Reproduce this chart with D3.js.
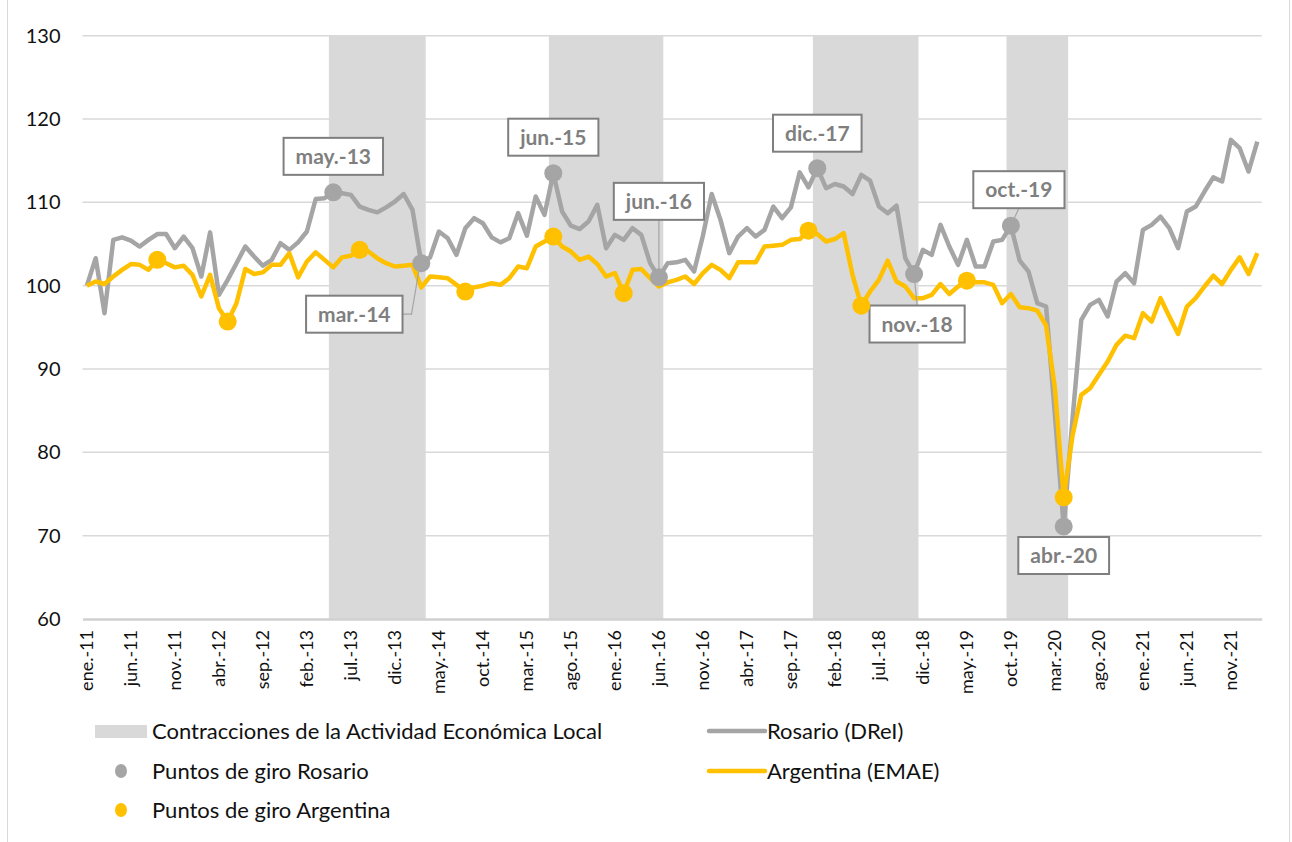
<!DOCTYPE html>
<html lang="es">
<head>
<meta charset="utf-8" />
<title>Rosario vs Argentina</title>
<script src="https://cdn.jsdelivr.net/npm/d3@7"></script>
<style>
  body { margin: 0; background: #fff; }
  svg text { font-family: Lato, "Open Sans", sans-serif; }
</style>
</head>
<body>
<div id="chart"></div>
<script>
  /* data */
  const monthNames = ["ene", "feb", "mar", "abr", "may", "jun", "jul", "ago", "sep", "oct", "nov", "dic"];
  // monthly series, ene.-11 .. feb.-22
  const categories = d3.range(134).map((i) => `${monthNames[i % 12]}.-${11 + Math.floor(i / 12)}`);

  const rosario = [
    100.0, 103.3, 96.7, 105.5, 105.8, 105.4, 104.7, 105.5, 106.2, 106.2, 104.5, 105.9,
    104.5, 101.1, 106.4, 98.9, 100.7, 102.7, 104.7, 103.5, 102.4, 103.1, 105.1, 104.3,
    105.2, 106.5, 110.4, 110.5, 111.2, 111.1, 110.9, 109.5, 109.1, 108.8, 109.4, 110.1,
    111.0, 109.1, 102.7, 103.4, 106.5, 105.7, 103.7, 106.9, 108.1, 107.5, 105.8, 105.2,
    105.7, 108.7, 106.0, 110.7, 108.5, 113.5, 108.9, 107.2, 106.8, 107.7, 109.7, 104.5,
    106.1, 105.5, 106.9, 106.1, 102.7, 101.0, 102.7, 102.8, 103.1, 101.7, 106.0, 111.0,
    107.9, 103.9, 105.9, 106.9, 105.9, 106.7, 109.5, 108.1, 109.4, 113.6, 111.8, 114.1,
    111.7, 112.2, 111.9, 111.0, 113.3, 112.6, 109.5, 108.7, 109.6, 103.3, 101.4, 104.3,
    103.7, 107.3, 104.7, 102.5, 105.5, 102.3, 102.3, 105.3, 105.5, 107.2, 103.0, 101.7,
    97.9, 97.5, 84.5, 71.1, 84.0, 95.9, 97.7, 98.3, 96.3, 100.5, 101.5, 100.3,
    106.7, 107.3, 108.3, 106.9, 104.5, 108.9, 109.5, 111.3, 113.0, 112.5, 117.5, 116.5,
    113.7, 117.3
  ];

  const argentina = [
    100.0, 100.5, 100.2, 101.1, 101.9, 102.6, 102.5, 101.9, 103.1, 102.7, 102.2, 102.4,
    101.3, 98.7, 101.3, 97.3, 95.7, 97.9, 102.0, 101.4, 101.6, 102.5, 102.5, 103.9,
    101.0, 102.9, 104.0, 103.1, 102.2, 103.4, 103.6, 104.3, 104.1, 103.3, 102.7, 102.3,
    102.4, 102.5, 99.8, 101.1, 101.0, 100.9, 100.1, 99.3, 99.8, 100.0, 100.3, 100.1,
    100.9, 102.3, 102.1, 104.7, 105.3, 105.9, 104.7, 104.1, 103.1, 103.5, 102.6, 101.1,
    101.5, 99.1, 101.9, 102.0, 100.9, 99.9, 100.4, 100.7, 101.1, 100.2, 101.5, 102.5,
    101.9, 100.9, 102.8, 102.8, 102.8, 104.7, 104.8, 104.9, 105.5, 105.6, 106.6, 106.2,
    105.3, 105.6, 106.3, 101.3, 97.6, 99.3, 100.7, 103.0, 100.5, 99.9, 98.5, 98.5,
    98.9, 100.2, 99.0, 99.9, 100.6, 100.4, 100.4, 100.1, 97.9, 99.0, 97.4, 97.3,
    97.0, 95.2, 87.7, 74.6, 82.0, 86.9, 87.7, 89.3, 90.9, 92.9, 94.0, 93.7,
    96.7, 95.7, 98.5, 96.3, 94.2, 97.5, 98.5, 99.9, 101.2, 100.2, 101.9, 103.4,
    101.4, 103.9
  ];

  // contraction periods (peak .. trough, month index)
  const contractions = [[28, 38], [53, 65], [83, 94], [105, 111]];

  // turning points
  const girosRosario = [28, 38, 53, 65, 83, 94, 105, 111];
  const girosArgentina = [8, 16, 31, 43, 53, 61, 82, 88, 100, 111];

  const xTickLabels = [
    "ene.-11", "jun.-11", "nov.-11", "abr.-12", "sep.-12", "feb.-13", "jul.-13", "dic.-13",
    "may.-14", "oct.-14", "mar.-15", "ago.-15", "ene.-16", "jun.-16", "nov.-16", "abr.-17",
    "sep.-17", "feb.-18", "jul.-18", "dic.-18", "may.-19", "oct.-19", "mar.-20", "ago.-20",
    "ene.-21", "jun.-21", "nov.-21"
  ];
  const yTicks = [60, 70, 80, 90, 100, 110, 120, 130];

  /* layout */
  const width = 1292;
  const height = 842;
  const plot = { left: 82.5, right: 1261.7, top: 35.7, bottom: 619 };

  const colors = { rosario: "#a5a5a5", argentina: "#ffc000", shade: "#d9d9d9", grid: "#d9d9d9", label: "#7f7f7f" };

  // label boxes placement for Rosario turning points (offset of box centre from dot)
  const labelPlacement = {
    28: { dx: 0, dy: -36 },
    38: { dx: -67, dy: 51, leader: "elbow" },
    53: { dx: 0, dy: -36 },
    65: { dx: 0, dy: -76, leader: "straight" },
    83: { dx: 0, dy: -35 },
    94: { dx: 3, dy: 50, leader: "straight" },
    105: { dx: 8, dy: -36, leader: "straight" },
    111: { dx: 0, dy: 29 }
  };

  const svg = d3.select("#chart").append("svg")
    .attr("width", width)
    .attr("height", height);

  // outer frame lines
  svg.append("line").attr("x1", 7.5).attr("x2", 7.5).attr("y1", 0).attr("y2", height)
    .attr("stroke", "#d9d9d9");
  svg.append("line").attr("x1", 1289.5).attr("x2", 1289.5).attr("y1", 0).attr("y2", height)
    .attr("stroke", "#d9d9d9");

  /* scales */
  const x = d3.scaleBand()
    .domain(d3.range(categories.length))
    .range([plot.left, plot.right])
    .padding(0);
  const xc = (i) => x(i) + x.bandwidth() / 2;

  const y = d3.scaleLinear()
    .domain([60, 130])
    .range([plot.bottom, plot.top]);

  /* gridlines */
  svg.append("g")
    .selectAll("line")
    .data(yTicks.filter((d) => d > 60))
    .join("line")
    .attr("x1", plot.left)
    .attr("x2", plot.right)
    .attr("y1", (d) => y(d))
    .attr("y2", (d) => y(d))
    .attr("stroke", colors.grid)
    .attr("stroke-width", 1.5);

  /* contraction shading */
  svg.append("g")
    .selectAll("rect")
    .data(contractions)
    .join("rect")
    .attr("x", (d) => x(d[0]))
    .attr("width", (d) => x(d[1]) + x.bandwidth() - x(d[0]))
    .attr("y", y(130))
    .attr("height", y(60) - y(130))
    .attr("fill", colors.shade);

  /* axes */
  const yAxis = d3.axisLeft(y).tickValues(yTicks).tickSize(0).tickPadding(22);
  svg.append("g")
    .attr("transform", `translate(${plot.left},0)`)
    .call(yAxis)
    .call((g) => g.select(".domain").remove())
    .selectAll("text")
    .attr("font-size", 20)
    .attr("fill", "#111");

  const tickIdx = xTickLabels.map((t) => categories.indexOf(t));
  const xAxis = d3.axisBottom(x)
    .tickValues(tickIdx)
    .tickFormat((i) => categories[i])
    .tickSize(0);
  const xg = svg.append("g")
    .attr("transform", `translate(0,${plot.bottom})`)
    .call(xAxis);
  xg.select(".domain")
    .attr("stroke", "#d0d0d0")
    .attr("stroke-width", 2.5);
  xg.selectAll("text")
    .attr("font-size", 18)
    .attr("fill", "#111")
    .attr("text-anchor", "end")
    .attr("transform", "rotate(-90)")
    .attr("x", -11)
    .attr("y", 0)
    .attr("dy", "0.35em");

  /* lines */
  const line = d3.line()
    .x((d, i) => xc(i))
    .y((d) => y(d));

  svg.append("path")
    .datum(rosario)
    .attr("d", line)
    .attr("fill", "none")
    .attr("stroke", colors.rosario)
    .attr("stroke-width", 4.5)
    .attr("stroke-linejoin", "round");

  svg.append("path")
    .datum(argentina)
    .attr("d", line)
    .attr("fill", "none")
    .attr("stroke", colors.argentina)
    .attr("stroke-width", 4.5)
    .attr("stroke-linejoin", "round");

  /* leader lines + labels for Rosario turning points */
  const labels = svg.append("g");
  girosRosario.forEach((i) => {
    const p = labelPlacement[i];
    const px = xc(i), py = y(rosario[i]);
    const cx = px + p.dx, cy = py + p.dy;
    const g = labels.append("g");
    const t = g.append("text")
      .attr("x", cx)
      .attr("y", cy)
      .attr("dy", "0.36em")
      .attr("text-anchor", "middle")
      .attr("font-size", 21)
      .attr("font-weight", "bold")
      .attr("fill", colors.label)
      .text(categories[i]);
    const w = t.node().getComputedTextLength() + 24;
    const h = 37;
    if (p.leader === "elbow") {
      const x0 = cx + w / 2;
      g.insert("polyline", "text")
        .attr("points", `${x0},${cy} ${x0 + 9},${cy} ${px - 2},${py + 5}`)
        .attr("fill", "none")
        .attr("stroke", colors.rosario)
        .attr("stroke-width", 1.2);
    } else if (p.leader === "straight") {
      const yEdge = p.dy < 0 ? cy + h / 2 : cy - h / 2;
      g.insert("line", "text")
        .attr("x1", cx).attr("y1", yEdge)
        .attr("x2", px).attr("y2", py)
        .attr("stroke", colors.rosario)
        .attr("stroke-width", 1.2);
    }
    g.insert("rect", "text")
      .attr("x", cx - w / 2)
      .attr("y", cy - h / 2)
      .attr("width", w)
      .attr("height", h)
      .attr("fill", "#fff")
      .attr("stroke", colors.label)
      .attr("stroke-width", 2);
  });

  /* turning point dots */
  svg.append("g")
    .selectAll("circle")
    .data(girosRosario)
    .join("circle")
    .attr("cx", (i) => xc(i))
    .attr("cy", (i) => y(rosario[i]))
    .attr("r", 9)
    .attr("fill", colors.rosario);

  svg.append("g")
    .selectAll("circle")
    .data(girosArgentina)
    .join("circle")
    .attr("cx", (i) => xc(i))
    .attr("cy", (i) => y(argentina[i]))
    .attr("r", 9)
    .attr("fill", colors.argentina);

  /* legend */
  const legend = svg.append("g").attr("font-size", 22).attr("fill", "#111");
  legend.append("rect").attr("x", 95).attr("y", 725).attr("width", 52).attr("height", 13)
    .attr("fill", colors.shade);
  legend.append("text").attr("x", 152).attr("y", 731).attr("dy", "0.35em")
    .text("Contracciones de la Actividad Económica Local");

  legend.append("ellipse").attr("cx", 121).attr("cy", 771).attr("rx", 6).attr("ry", 7)
    .attr("fill", colors.rosario);
  legend.append("text").attr("x", 152).attr("y", 771).attr("dy", "0.35em")
    .text("Puntos de giro Rosario");

  legend.append("ellipse").attr("cx", 121).attr("cy", 810).attr("rx", 6).attr("ry", 7)
    .attr("fill", colors.argentina);
  legend.append("text").attr("x", 152).attr("y", 810).attr("dy", "0.35em")
    .text("Puntos de giro Argentina");

  legend.append("line").attr("x1", 709).attr("x2", 765).attr("y1", 731).attr("y2", 731)
    .attr("stroke", colors.rosario).attr("stroke-width", 4.5).attr("stroke-linecap", "round");
  legend.append("text").attr("x", 767).attr("y", 731).attr("dy", "0.35em")
    .text("Rosario (DReI)");

  legend.append("line").attr("x1", 709).attr("x2", 765).attr("y1", 771).attr("y2", 771)
    .attr("stroke", colors.argentina).attr("stroke-width", 4.5).attr("stroke-linecap", "round");
  legend.append("text").attr("x", 767).attr("y", 771).attr("dy", "0.35em")
    .text("Argentina (EMAE)");
</script>
</body>
</html>
